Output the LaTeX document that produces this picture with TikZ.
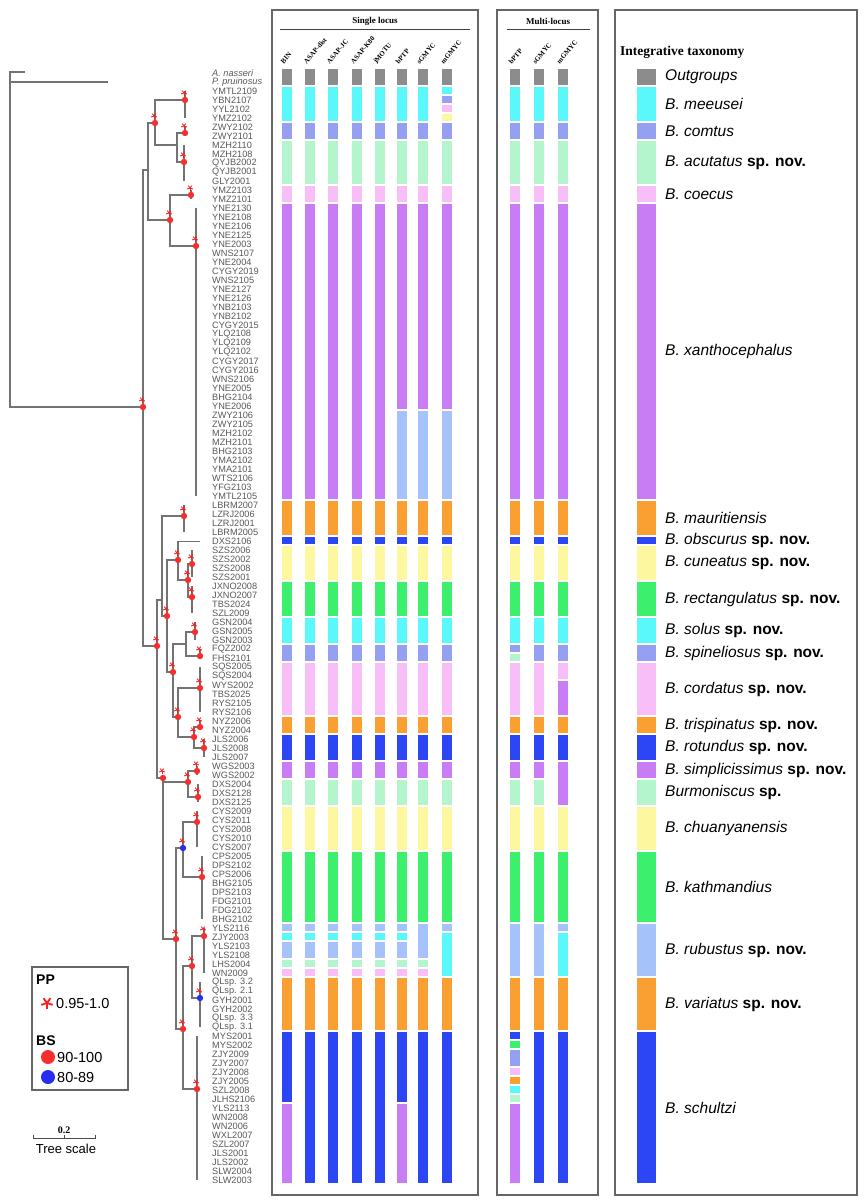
\documentclass[tikz,border=0pt]{standalone}
\usepackage{fontspec}
\setmainfont{Liberation Serif}
\setsansfont{Liberation Sans}
\usetikzlibrary{calc}
\definecolor{cGray}{RGB}{140,140,140}
\definecolor{cCyan}{RGB}{90,248,250}
\definecolor{cLilac}{RGB}{150,160,242}
\definecolor{cMint}{RGB}{180,245,205}
\definecolor{cPink}{RGB}{248,190,248}
\definecolor{cPurple}{RGB}{200,125,245}
\definecolor{cOrange}{RGB}{250,160,50}
\definecolor{cBlue}{RGB}{45,70,245}
\definecolor{cYellow}{RGB}{253,248,160}
\definecolor{cGreen}{RGB}{60,240,110}
\definecolor{cSky}{RGB}{165,195,250}
\definecolor{ppRed}{RGB}{250,30,30}
\definecolor{bsRed}{RGB}{248,45,45}
\definecolor{bsBlue}{RGB}{40,45,240}

% x centre, width, first row, last row, colour
\newcommand{\seg}[5]{\path[fill=#5] ({#1-#2/2},{69+9*(#3-1)}) rectangle ({#1+#2/2},{76+9*(#4-1)});}
% name, x, y, first row, last row
\newcommand{\clade}[5]{%
  \coordinate (#1) at (#2,#3);
  \draw[branch] (#2,{73.3+9*(#4-1)}) -- (#2,{73.3+9*(#5-1)});}
% centre, size, line width
\newcommand{\ppstar}[3]{\foreach \ang in {90,162,234,306,18} \draw[ppRed, line width=#3] (#1) -- ++(\ang:#2);}
\newcommand{\supp}[2][bsRed]{%
  \fill[#1] (#2) circle (3.2pt);
  \ppstar{$(#2)+(-1,-7)$}{3}{0.9pt}}

\def\colStd{1/2/cGray,3/6/cCyan,7/8/cLilac,9/13/cMint,14/15/cPink,16/48/cPurple,49/52/cOrange,53/53/cBlue,54/57/cYellow,58/61/cGreen,62/64/cCyan,65/66/cLilac,67/72/cPink,73/74/cOrange,75/77/cBlue,78/79/cPurple,80/82/cMint,83/87/cYellow,88/95/cGreen,96/96/cSky,97/97/cCyan,98/99/cSky,100/100/cMint,101/101/cPink,102/107/cOrange,108/124/cBlue}
\def\colBIN{1/2/cGray,3/6/cCyan,7/8/cLilac,9/13/cMint,14/15/cPink,16/48/cPurple,49/52/cOrange,53/53/cBlue,54/57/cYellow,58/61/cGreen,62/64/cCyan,65/66/cLilac,67/72/cPink,73/74/cOrange,75/77/cBlue,78/79/cPurple,80/82/cMint,83/87/cYellow,88/95/cGreen,96/96/cSky,97/97/cCyan,98/99/cSky,100/100/cMint,101/101/cPink,102/107/cOrange,108/115/cBlue,116/124/cPurple}
\def\colbPTP{1/2/cGray,3/6/cCyan,7/8/cLilac,9/13/cMint,14/15/cPink,16/38/cPurple,39/48/cSky,49/52/cOrange,53/53/cBlue,54/57/cYellow,58/61/cGreen,62/64/cCyan,65/66/cLilac,67/72/cPink,73/74/cOrange,75/77/cBlue,78/79/cPurple,80/82/cMint,83/87/cYellow,88/95/cGreen,96/96/cSky,97/97/cCyan,98/99/cSky,100/100/cMint,101/101/cPink,102/107/cOrange,108/115/cBlue,116/124/cPurple}
\def\colsGMYC{1/2/cGray,3/6/cCyan,7/8/cLilac,9/13/cMint,14/15/cPink,16/38/cPurple,39/48/cSky,49/52/cOrange,53/53/cBlue,54/57/cYellow,58/61/cGreen,62/64/cCyan,65/66/cLilac,67/72/cPink,73/74/cOrange,75/77/cBlue,78/79/cPurple,80/82/cMint,83/87/cYellow,88/95/cGreen,96/99/cSky,100/100/cMint,101/101/cPink,102/107/cOrange,108/124/cBlue}
\def\colmGMYC{1/2/cGray,3/3/cCyan,4/4/cLilac,5/5/cPink,6/6/cYellow,7/8/cLilac,9/13/cMint,14/15/cPink,16/38/cPurple,39/48/cSky,49/52/cOrange,53/53/cBlue,54/57/cYellow,58/61/cGreen,62/64/cCyan,65/66/cLilac,67/72/cPink,73/74/cOrange,75/77/cBlue,78/79/cPurple,80/82/cMint,83/87/cYellow,88/95/cGreen,96/96/cSky,97/101/cCyan,102/107/cOrange,108/124/cBlue}
\def\multibPTP{1/2/cGray,3/6/cCyan,7/8/cLilac,9/13/cMint,14/15/cPink,16/48/cPurple,49/52/cOrange,53/53/cBlue,54/57/cYellow,58/61/cGreen,62/64/cCyan,65/65/cLilac,66/66/cMint,67/72/cPink,73/74/cOrange,75/77/cBlue,78/79/cPurple,80/82/cMint,83/87/cYellow,88/95/cGreen,96/101/cSky,102/107/cOrange,108/108/cBlue,109/109/cGreen,110/111/cLilac,112/112/cPink,113/113/cOrange,114/114/cCyan,115/115/cMint,116/124/cPurple}
\def\multisGMYC{1/2/cGray,3/6/cCyan,7/8/cLilac,9/13/cMint,14/15/cPink,16/48/cPurple,49/52/cOrange,53/53/cBlue,54/57/cYellow,58/61/cGreen,62/64/cCyan,65/66/cLilac,67/72/cPink,73/74/cOrange,75/77/cBlue,78/79/cPurple,80/82/cMint,83/87/cYellow,88/95/cGreen,96/101/cSky,102/107/cOrange,108/124/cBlue}
\def\multimGMYC{1/2/cGray,3/6/cCyan,7/8/cLilac,9/13/cMint,14/15/cPink,16/48/cPurple,49/52/cOrange,53/53/cBlue,54/57/cYellow,58/61/cGreen,62/64/cCyan,65/66/cLilac,67/68/cPink,69/72/cPurple,73/74/cOrange,75/77/cBlue,78/82/cPurple,83/87/cYellow,88/95/cGreen,96/96/cSky,97/101/cCyan,102/107/cOrange,108/124/cBlue}

\begin{document}
\begin{tikzpicture}[
    x=1pt, y=-1pt,
    branch/.style={draw=black!55, line width=1.3pt},
    panel/.style={draw=black!60, line width=1.6pt},
    tip label/.style={anchor=west, inner sep=0pt, text=black!65, font=\sffamily\fontsize{9.2}{9}\selectfont},
    col label/.style={anchor=west, rotate=50, inner sep=0pt, font=\bfseries\fontsize{7}{7}\selectfont},
    head label/.style={inner sep=0pt, font=\bfseries\fontsize{9}{9}\selectfont},
    taxon/.style={anchor=west, inner sep=0pt, font=\sffamily\fontsize{15.5}{16}\selectfont},
    key text/.style={anchor=west, inner sep=0pt, font=\sffamily\fontsize{14.5}{15}\selectfont}
]
\useasboundingbox (0,0) rectangle (866,1200);

    % panels
    \draw[panel] (272,10) rectangle (478,1195);
    \draw[panel] (497,10) rectangle (598,1195);
    \draw[panel] (615,10) rectangle (857,1195);

    \node[head label] (slHead) at (375,21) {Single locus};
    \draw[line width=1.2pt, black!75] (280,29.5) -- (470,29.5);
    \node[head label] (mlHead) at (548,21) {Multi-locus};
    \draw[line width=1.2pt, black!75] (507,29.5) -- (590,29.5);
    \node[anchor=west, inner sep=0pt, font=\bfseries\fontsize{13.5}{14}\selectfont] (itHead) at (620,52) {Integrative taxonomy};

    \foreach \x/\lab [count=\k] in {287/BIN, 310/ASAP-dist, 333/ASAP-JC, 357/ASAP-K80, 380/jMOTU, 402/bPTP, 423/sGMYC, 447/mGMYC}
        \node[col label] (sh\k) at (\x-5,63) {\lab};
    \foreach \x/\lab [count=\k] in {515/bPTP, 539/sGMYC, 563/mGMYC}
        \node[col label] (mh\k) at (\x-5,63) {\lab};

    % single locus columns
    \foreach \a/\b/\c in \colBIN {\seg{287}{10}{\a}{\b}{\c}}
    \foreach \x in {310,333,357,380}
        \foreach \a/\b/\c in \colStd {\seg{\x}{10}{\a}{\b}{\c}}
    \foreach \a/\b/\c in \colbPTP {\seg{402}{10}{\a}{\b}{\c}}
    \foreach \a/\b/\c in \colsGMYC {\seg{423}{10}{\a}{\b}{\c}}
    \foreach \a/\b/\c in \colmGMYC {\seg{447}{10}{\a}{\b}{\c}}

    % multi-locus columns
    \foreach \a/\b/\c in \multibPTP {\seg{515}{10}{\a}{\b}{\c}}
    \foreach \a/\b/\c in \multisGMYC {\seg{539}{10}{\a}{\b}{\c}}
    \foreach \a/\b/\c in \multimGMYC {\seg{563}{10}{\a}{\b}{\c}}

    % integrative taxonomy
    \foreach \a/\b/\c/\t in {
        1/2/cGray/\textit{Outgroups},
        3/6/cCyan/\textit{B. meeusei},
        7/8/cLilac/\textit{B. comtus},
        9/13/cMint/{\textit{B. acutatus} \textbf{sp. nov.}},
        14/15/cPink/\textit{B. coecus},
        16/48/cPurple/\textit{B. xanthocephalus},
        49/52/cOrange/\textit{B. mauritiensis},
        53/53/cBlue/{\textit{B. obscurus} \textbf{sp. nov.}},
        54/57/cYellow/{\textit{B. cuneatus} \textbf{sp. nov.}},
        58/61/cGreen/{\textit{B. rectangulatus} \textbf{sp. nov.}},
        62/64/cCyan/{\textit{B. solus} \textbf{sp. nov.}},
        65/66/cLilac/{\textit{B. spineliosus} \textbf{sp. nov.}},
        67/72/cPink/{\textit{B. cordatus} \textbf{sp. nov.}},
        73/74/cOrange/{\textit{B. trispinatus} \textbf{sp. nov.}},
        75/77/cBlue/{\textit{B. rotundus} \textbf{sp. nov.}},
        78/79/cPurple/{\textit{B. simplicissimus} \textbf{sp. nov.}},
        80/82/cMint/{\textit{Burmoniscus} \textbf{sp.}},
        83/87/cYellow/\textit{B. chuanyanensis},
        88/95/cGreen/\textit{B. kathmandius},
        96/101/cSky/{\textit{B. rubustus} \textbf{sp. nov.}},
        102/107/cOrange/{\textit{B. variatus} \textbf{sp. nov.}},
        108/124/cBlue/\textit{B. schultzi}}{
        \seg{646}{19}{\a}{\b}{\c}
        \node[taxon] (tx\a) at (665,{72.5+4.5*(\a+\b-2)}) {\t};
    }

    % tip labels
    \node[tip label] (t1) at (212,73.3) {\textit{A. nasseri}};
    \node[tip label] (t2) at (212,82.3) {\textit{P. pruinosus}};
    \foreach \lab [count=\i from 3] in {YMTL2109, YBN2107, YYL2102, YMZ2102, ZWY2102, ZWY2101, MZH2110, MZH2108, QYJB2002, QYJB2001, GLY2001, YMZ2103, YMZ2101, YNE2130, YNE2108, YNE2106, YNE2125, YNE2003, WNS2107, YNE2004, CYGY2019, WNS2105, YNE2127, YNE2126, YNB2103, YNB2102, CYGY2015, YLQ2108, YLQ2109, YLQ2102, CYGY2017, CYGY2016, WNS2106, YNE2005, BHG2104, YNE2006, ZWY2106, ZWY2105, MZH2102, MZH2101, BHG2103, YMA2102, YMA2101, WTS2106, YFG2103, YMTL2105, LBRM2007, LZRJ2006, LZRJ2001, LBRM2005, DXS2106, SZS2006, SZS2002, SZS2008, SZS2001, JXNO2008, JXNO2007, TBS2024, SZL2009, GSN2004, GSN2005, GSN2003, FQZ2002, FHS2101, SQS2005, SQS2004, WYS2002, TBS2025, RYS2105, RYS2106, NYZ2006, NYZ2004, JLS2006, JLS2008, JLS2007, WGS2003, WGS2002, DXS2004, DXS2128, DXS2125, CYS2009, CYS2011, CYS2008, CYS2010, CYS2007, CPS2005, DPS2102, CPS2006, BHG2105, DPS2103, FDG2101, FDG2102, BHG2102, YLS2116, ZJY2003, YLS2103, YLS2108, LHS2004, WN2009, QLsp. 3.2, QLsp. 2.1, GYH2001, GYH2002, QLsp. 3.3, QLsp. 3.1, MYS2001, MYS2002, ZJY2009, ZJY2007, ZJY2008, ZJY2005, SZL2008, JLHS2106, YLS2113, WN2008, WN2006, WXL2007, SZL2007, JLS2001, JLS2002, SLW2004, SLW2003}
        \node[tip label] (t\i) at (212,{73.3+9*(\i-1)}) {\lab};

    % tree
    \coordinate (root) at (10,240);
    \coordinate (nas) at (25,72);
    \coordinate (prui) at (108,82);
    \coordinate (I) at (143,407);
    \coordinate (up) at (148,170);
    \coordinate (mca) at (155,123);
    \coordinate (ca) at (177,145);
    \coordinate (cx) at (170,220);
    \clade{meeu}{185}{100}{3}{6}
    \clade{comt}{185}{133}{7}{8}
    \clade{acut}{184}{162}{9}{13}
    \clade{coec}{191}{195}{14}{15}
    \clade{xant}{196}{246}{16}{48}

    \coordinate (L) at (157,646);
    \coordinate (mM) at (162,600);
    \coordinate (mA) at (167,616);
    \coordinate (m4) at (178,560);
    \coordinate (obs) at (200,541.3);
    \coordinate (m6) at (188,580);
    \coordinate (m10) at (173,672);
    \coordinate (mC) at (186,644);
    \coordinate (m12) at (178,717);
    \coordinate (m14) at (194,737);
    \coordinate (m20) at (163,778);
    \coordinate (m18) at (188,782);
    \coordinate (m24) at (176,939);
    \coordinate (m22) at (183,848);
    \coordinate (m28) at (183,1029);
    \coordinate (m26) at (192,966);
    \clade{maur}{184}{516}{49}{52}
    \clade{cune}{192}{564}{54}{57}
    \clade{rect}{192}{597}{58}{61}
    \clade{solu}{195}{632}{62}{64}
    \clade{spin}{200}{656}{65}{66}
    \clade{cord}{200}{688}{67}{72}
    \clade{tris}{200}{727}{73}{74}
    \clade{rotu}{204}{748}{75}{77}
    \clade{simp}{197}{771}{78}{79}
    \clade{burm}{198}{797}{80}{82}
    \clade{chua}{197}{822}{83}{87}
    \clade{kath}{202}{877}{88}{95}
    \clade{rubu}{204}{936}{96}{101}
    \clade{vari}{200}{998}{102}{107}
    \clade{schu}{197}{1089}{108}{124}

    \foreach \p/\c in {root/nas, root/prui, root/I, I/up, I/L, up/mca, up/cx, mca/meeu, mca/ca,
        ca/comt, ca/acut, cx/coec, cx/xant, L/mM, L/m20, mM/maur, mM/mA, mA/m4, mA/m10,
        m4/obs, m4/m6, m6/cune, m6/rect, m10/mC, m10/m12, mC/solu, mC/spin, m12/cord, m12/m14,
        m14/tris, m14/rotu, m20/m18, m20/m24, m18/simp, m18/burm, m24/m22, m24/m28,
        m22/chua, m22/kath, m28/m26, m28/schu, m26/rubu, m26/vari}
        \draw[branch] (\p) |- (\c);

    % support values
    \foreach \n in {meeu, mca, comt, acut, coec, cx, xant, I, maur, m4, cune, m6, rect, mA, L,
        solu, spin, m10, cord, m12, tris, m14, rotu, m18, simp, burm, m20, chua, kath, m24,
        rubu, m26, m28, schu}
        {\supp{\n}}
    \supp[bsBlue]{m22}
    \supp[bsBlue]{vari}

    % key
    \draw[draw=black!60, line width=1.2pt] (32,967) rectangle (128,1090);
    \node[anchor=west, inner sep=0pt, font=\sffamily\bfseries\fontsize{14}{14}\selectfont] (ppKey) at (36,980) {PP};
    \coordinate (ppMark) at (47,1003);
    \ppstar{ppMark}{6}{1.8pt}
    \node[key text] (ppRange) at (56,1003) {0.95-1.0};
    \node[anchor=west, inner sep=0pt, font=\sffamily\bfseries\fontsize{14}{14}\selectfont] (bsKey) at (36,1041) {BS};
    \fill[bsRed] (48,1057) circle (7pt);
    \node[key text] (bsHigh) at (57,1057) {90-100};
    \fill[bsBlue] (48,1077) circle (7pt);
    \node[key text] (bsLow) at (57,1077) {80-89};

    % scale bar
    \draw[black!70, line width=0.8pt] (33,1135) -- (33,1138) -- (95,1138) -- (95,1135) (64,1138) -- (64,1135);
    \node[inner sep=0pt, font=\bfseries\fontsize{10}{10}\selectfont] (scaleVal) at (64,1130) {0.2};
    \node[inner sep=0pt, font=\sffamily\fontsize{13}{13}\selectfont] (scaleName) at (66,1149) {Tree scale};
\end{tikzpicture}
\end{document}
